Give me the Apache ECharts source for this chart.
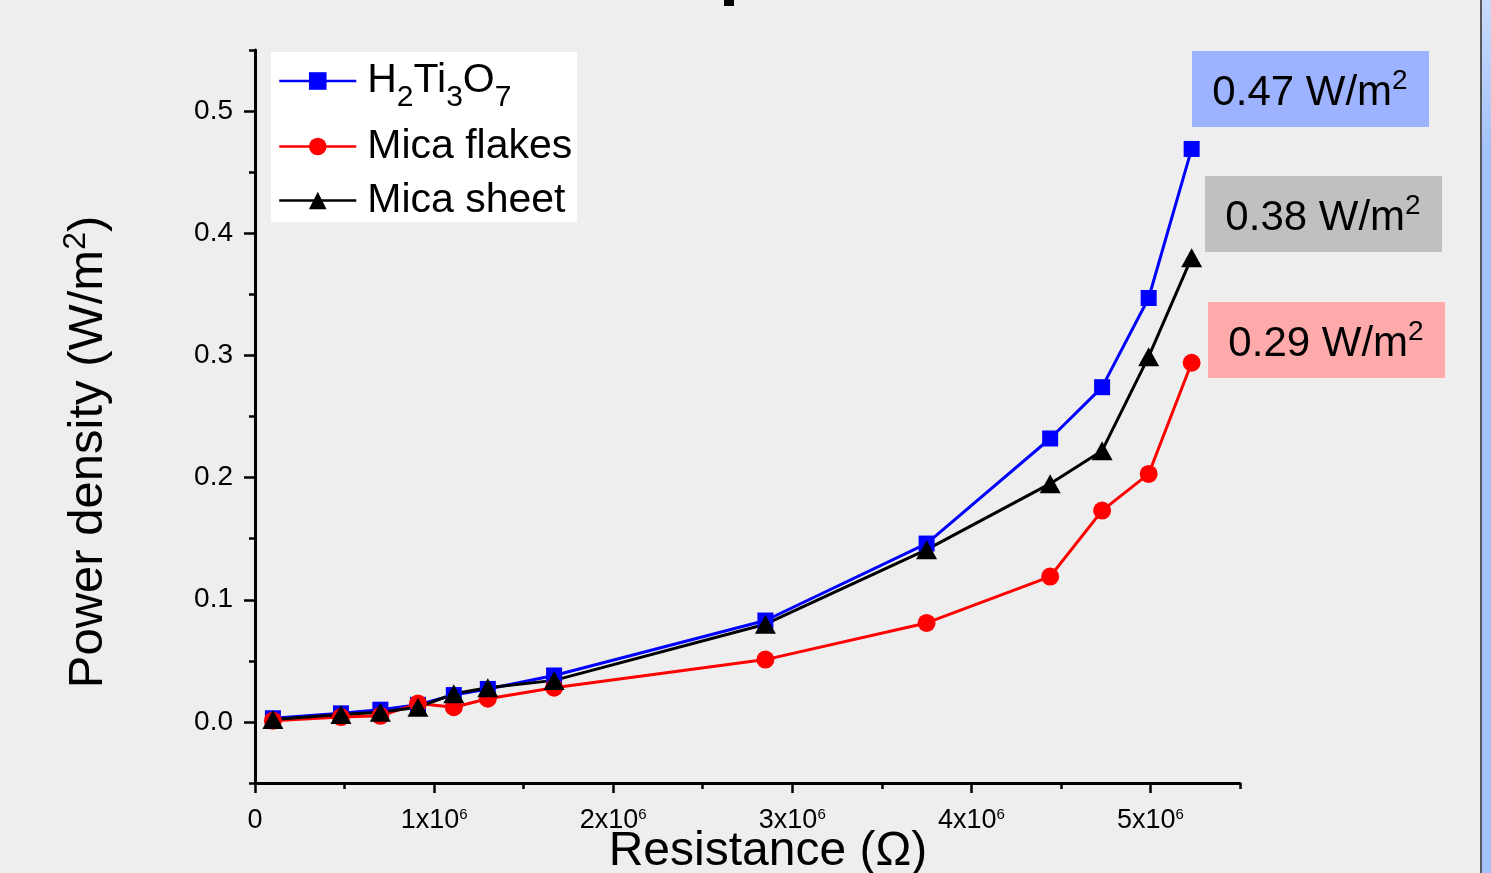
<!DOCTYPE html>
<html>
<head>
<meta charset="utf-8">
<title>Power density vs resistance</title>
<script src="https://cdn.jsdelivr.net/npm/echarts@6/dist/echarts.min.js"></script>
<style>
  html, body { margin: 0; padding: 0; background: #eeeeee; }
  #main { width: 1491px; height: 873px; }
</style>
</head>
<body>
<div id="main"></div>
<script>
// resistance (ohm)
var resistance = [0.10e6, 0.48e6, 0.70e6, 0.91e6, 1.11e6, 1.30e6, 1.67e6, 2.85e6, 3.75e6, 4.44e6, 4.73e6, 4.99e6, 5.23e6];

// power density (W/m2)
var h2ti3o7 = [0.003, 0.007, 0.010, 0.014, 0.022, 0.027, 0.038, 0.083, 0.146, 0.232, 0.274, 0.347, 0.469];
var micaFlakes = [0.001, 0.004, 0.005, 0.015, 0.012, 0.019, 0.028, 0.051, 0.081, 0.119, 0.173, 0.203, 0.294];
var micaSheet = [0.002, 0.006, 0.008, 0.012, 0.023, 0.028, 0.034, 0.080, 0.141, 0.195, 0.222, 0.299, 0.380];

var seriesNames = ['H2Ti3O7', 'Mica flakes', 'Mica sheet'];

// tick positions
var xMajor = [0, 1e6, 2e6, 3e6, 4e6, 5e6];
var xMinor = [0.5e6, 1.5e6, 2.5e6, 3.5e6, 4.5e6, 5.5e6];
var yMajor = [0, 0.1, 0.2, 0.3, 0.4, 0.5];
var yMinor = [-0.05, 0.05, 0.15, 0.25, 0.35, 0.45, 0.55];

// peak values shown in the boxes on the right
var peakLabels = ['0.47', '0.38', '0.29'];

function pairs(xs, ys) {
  return xs.map(function (x, i) { return [x, ys[i]]; });
}

var font = "'Liberation Sans', Arial, sans-serif";

// rich text for "xx W/m2" with a raised 2 (bottom padding lifts it)
var unitRich = {
  a: { fontFamily: font, fontSize: 42, lineHeight: 42, fill: '#000' },
  b: { fontFamily: font, fontSize: 28, lineHeight: 28, padding: [0, 0, 24, 0], fill: '#000' }
};

var myChart = echarts.init(document.getElementById('main'));

var option = {
  backgroundColor: '#eeeeee',
  animation: false,
  textStyle: { fontFamily: font, color: '#000' },
  grid: { left: 255, right: 251, top: 50, bottom: 90, containLabel: false },
  legend: {
    orient: 'vertical',
    left: 278,
    top: 49,
    padding: 0,
    itemGap: 13,
    itemWidth: 77,
    itemHeight: 22,
    z: 10,
    data: seriesNames,
    lineStyle: { width: 2.5 },
    formatter: function (name) {
      if (name === 'H2Ti3O7') {
        return '{n|H}{s|2}{n|Ti}{s|3}{n|O}{s|7}';
      }
      return '{n|' + name + '}';
    },
    textStyle: {
      fontFamily: font,
      color: '#000',
      padding: [0, 0, 0, 6],
      rich: {
        n: { fontFamily: font, fontSize: 41, lineHeight: 41, color: '#000' },
        s: { fontFamily: font, fontSize: 30, lineHeight: 30, padding: [34, 0, 0, 0], color: '#000' }
      }
    }
  },
  xAxis: [
    {
      type: 'value',
      min: 0,
      max: 5.5e6,
      axisLine: { onZero: false, lineStyle: { color: '#000', width: 3 } },
      axisTick: { customValues: xMajor, length: 10, lineStyle: { color: '#000', width: 2.5 } },
      splitLine: { show: false },
      axisLabel: {
        customValues: xMajor,
        margin: 24,
        color: '#000',
        fontFamily: font,
        fontSize: 27,
        formatter: function (v) {
          if (v === 0) return '{a|0}';
          return '{a|' + Math.round(v / 1e6) + 'x10}{b|6}';
        },
        rich: {
          a: { fontFamily: font, fontSize: 27, lineHeight: 27, color: '#000' },
          b: { fontFamily: font, fontSize: 15, lineHeight: 15, padding: [0, 0, 12, 0], color: '#000' }
        }
      }
    },
    {
      type: 'value',
      position: 'bottom',
      min: 0,
      max: 5.5e6,
      axisLine: { show: false, onZero: false },
      axisTick: { customValues: xMinor, length: 6, lineStyle: { color: '#000', width: 2.5 } },
      axisLabel: { show: false },
      splitLine: { show: false }
    }
  ],
  yAxis: [
    {
      type: 'value',
      min: -0.05,
      max: 0.55,
      axisLine: { show: true, onZero: false, lineStyle: { color: '#000', width: 3 } },
      axisTick: { show: true, customValues: yMajor, length: 11, lineStyle: { color: '#000', width: 2.5 } },
      splitLine: { show: false },
      axisLabel: {
        customValues: yMajor,
        margin: 22,
        color: '#000',
        fontFamily: font,
        fontSize: 28,
        formatter: function (v) { return v.toFixed(1); }
      }
    },
    {
      type: 'value',
      position: 'left',
      min: -0.05,
      max: 0.55,
      axisLine: { show: false, onZero: false },
      axisTick: { show: true, customValues: yMinor, length: 6, lineStyle: { color: '#000', width: 2.5 } },
      axisLabel: { show: false },
      splitLine: { show: false }
    }
  ],
  series: [
    {
      name: 'H2Ti3O7',
      type: 'line',
      data: pairs(resistance, h2ti3o7),
      symbol: 'rect',
      symbolSize: 16,
      color: '#0000ff',
      lineStyle: { color: '#0000ff', width: 3 },
      itemStyle: { color: '#0000ff' }
    },
    {
      name: 'Mica flakes',
      type: 'line',
      data: pairs(resistance, micaFlakes),
      symbol: 'circle',
      symbolSize: 18,
      color: '#ff0000',
      lineStyle: { color: '#ff0000', width: 3 },
      itemStyle: { color: '#ff0000' }
    },
    {
      name: 'Mica sheet',
      type: 'line',
      data: pairs(resistance, micaSheet),
      symbol: 'triangle',
      symbolSize: [21, 19],
      color: '#000000',
      lineStyle: { color: '#000000', width: 3 },
      itemStyle: { color: '#000000' }
    }
  ],
  graphic: [
    // white legend panel
    { type: 'rect', z: -10, shape: { x: 271, y: 52, width: 306, height: 170 }, style: { fill: '#ffffff' } },
    // peak boxes
    { type: 'rect', shape: { x: 1192, y: 51, width: 237, height: 76 }, style: { fill: '#9db3ff' } },
    { type: 'rect', shape: { x: 1205, y: 176, width: 237, height: 76 }, style: { fill: '#c0c0c0' } },
    { type: 'rect', shape: { x: 1208, y: 302, width: 237, height: 76 }, style: { fill: '#ffaaaa' } },
    {
      type: 'text', x: 1310, y: 93,
      style: { text: '{a|' + peakLabels[0] + ' W/m}{b|2}', align: 'center', verticalAlign: 'middle', rich: unitRich }
    },
    {
      type: 'text', x: 1323, y: 218,
      style: { text: '{a|' + peakLabels[1] + ' W/m}{b|2}', align: 'center', verticalAlign: 'middle', rich: unitRich }
    },
    {
      type: 'text', x: 1326, y: 344,
      style: { text: '{a|' + peakLabels[2] + ' W/m}{b|2}', align: 'center', verticalAlign: 'middle', rich: unitRich }
    },
    // axis titles
    {
      type: 'text', x: 768, y: 852,
      style: { text: 'Resistance (\u03A9)', fontFamily: font, fontSize: 48, fill: '#000', align: 'center', verticalAlign: 'middle' }
    },
    {
      type: 'text', x: 88, y: 452, rotation: Math.PI / 2,
      style: {
        text: '{a|Power density (W/m}{b|2}{a|)}', align: 'center', verticalAlign: 'middle',
        rich: {
          a: { fontFamily: font, fontSize: 49, lineHeight: 49, fill: '#000' },
          b: { fontFamily: font, fontSize: 32, lineHeight: 32, padding: [0, 0, 24, 0], fill: '#000' }
        }
      }
    },
    // cropped title fragment at the top edge
    { type: 'rect', shape: { x: 724, y: 0, width: 10, height: 6 }, style: { fill: '#000' } },
    // window edge on the right
    { type: 'rect', shape: { x: 1480, y: 0, width: 2, height: 873 }, style: { fill: '#5a5a5a' } },
    {
      type: 'rect', shape: { x: 1482, y: 0, width: 9, height: 873 },
      style: {
        fill: new echarts.graphic.LinearGradient(0, 0, 0, 1, [
          { offset: 0, color: '#c9dbfb' },
          { offset: 0.17, color: '#a4c3fa' },
          { offset: 1, color: '#a4c3fa' }
        ])
      }
    }
  ]
};

myChart.setOption(option);
</script>
</body>
</html>
